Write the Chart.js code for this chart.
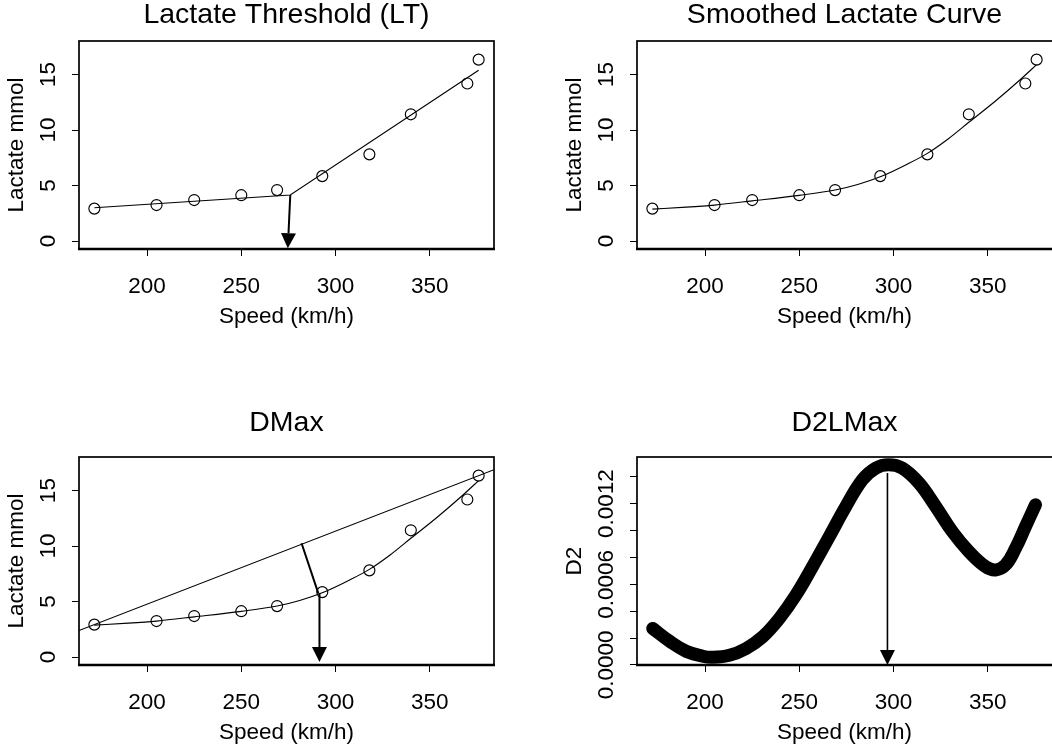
<!DOCTYPE html>
<html>
<head>
<meta charset="utf-8">
<title>Lactate threshold methods</title>
<script src="https://cdn.jsdelivr.net/npm/chart.js@4.4.1/dist/chart.umd.min.js"></script>
<style>
  html, body { margin: 0; padding: 0; background: #fff; }
  body { width: 1052px; height: 750px; overflow: hidden; position: relative; }
  .panel { position: absolute; width: 558px; height: 375px; }
</style>
</head>
<body>
<div class="panel" style="left:0;top:0"><canvas id="ltChart" width="558" height="375"></canvas></div>
<div class="panel" style="left:558px;top:0"><canvas id="smoothChart" width="558" height="375"></canvas></div>
<div class="panel" style="left:0;top:375px"><canvas id="dmaxChart" width="558" height="375"></canvas></div>
<div class="panel" style="left:558px;top:375px"><canvas id="d2Chart" width="558" height="375"></canvas></div>
<script>
// measured lactate test
const speed = [172, 205, 225, 250, 269, 293, 318, 340, 370, 376];
const lactate = [2.92, 3.24, 3.69, 4.13, 4.59, 5.85, 7.81, 11.42, 14.2, 16.35];

// two-segment fit for LT
const ltFitSpeed = [172, 276, 376];
const ltFitLactate = [3.0, 4.15, 15.4];

// smoothed curve
const smoothSpeed = [172, 190, 205, 225, 250, 269, 281, 294, 307, 318, 329, 340, 354, 368, 376];
const smoothLactate = [2.88, 3.05, 3.24, 3.62, 4.12, 4.6, 5.1, 5.86, 6.9, 7.9, 9.2, 10.7, 12.6, 14.65, 15.9];

// second derivative of the smoothed curve
const d2Speed = [172.2, 181.1, 189.9, 198.7, 204, 212.9, 221.7, 230.5, 239.4, 248.2, 257, 265.9, 274.7,
  283.5, 290.6, 297.3, 304.7, 313.6, 322.4, 331.2, 340.1, 348.9, 354.2, 359.5, 364.8, 370.1, 375.4];
const d2Value = [0.000271, 0.000177, 0.000102, 0.000065, 0.000057, 0.000072, 0.000122, 0.000209, 0.000346,
  0.00052, 0.000731, 0.000955, 0.001179, 0.001378, 0.001465, 0.00149, 0.001465, 0.001353, 0.001179,
  0.000993, 0.000843, 0.000731, 0.000707, 0.000744, 0.000868, 0.00103, 0.001192];

// markers
const ltArrowSpeed = [276, 274.7];
const ltArrowLactate = [4.15, -0.65];
const dmaxFootSpeed = [282, 290.9];
const dmaxFootLactate = [10.25, 5.74];
const dmaxArrowSpeed = [291.5, 291.5];
const dmaxArrowLactate = [5.74, -0.45];
const d2ArrowSpeed = [296.8, 296.8];
const d2ArrowValue = [0.001428, 0];

// axes
const xTicks = [200, 250, 300, 350];
const lactateTicks = [0, 5, 10, 15];
const lactateTickLabels = ["0", "5", "10", "15"];
const d2Ticks = [0, 0.0002, 0.0004, 0.0006, 0.0008, 0.001, 0.0012, 0.0014];
const d2TickLabels = ["0.0000", "", "", "0.0006", "", "", "0.0012", ""];

const FONT = "'Liberation Sans', Arial, Helvetica, sans-serif";
const TICK_SIZE = 22.5;
const TITLE_SIZE = 28.5;
Chart.defaults.font.family = FONT;
Chart.defaults.color = "#000";

// R style 4% axis padding
function padRange(arr) {
  const lo = Math.min(...arr), hi = Math.max(...arr);
  const p = 0.04 * (hi - lo);
  return [lo - p, hi + p];
}
const [xMin, xMax] = padRange(speed);
const [d2Min, d2Max] = padRange(d2Value);

function pts(xs, ys) {
  return xs.map((v, i) => ({ x: v, y: ys[i] }));
}

function widest(labels, size) {
  const c = document.createElement("canvas").getContext("2d");
  c.font = "normal " + size + "px " + FONT;
  return Math.max(...labels.map(l => c.measureText(l).width));
}

function drawArrow(ctx, x0, y0, x1, y1, width, head) {
  const ang = Math.atan2(y1 - y0, x1 - x0);
  const bx = x1 - head * Math.cos(ang);
  const by = y1 - head * Math.sin(ang);
  ctx.lineWidth = width;
  ctx.beginPath();
  ctx.moveTo(x0, y0);
  ctx.lineTo(bx, by);
  ctx.stroke();
  ctx.beginPath();
  ctx.moveTo(x1, y1);
  ctx.lineTo(bx + head / 2 * Math.sin(ang), by - head / 2 * Math.cos(ang));
  ctx.lineTo(bx - head / 2 * Math.sin(ang), by + head / 2 * Math.cos(ang));
  ctx.closePath();
  ctx.fill();
}

// box, segments and arrows the R way
const rDecor = {
  id: "rDecor",
  afterDatasetsDraw(chart, args, opts) {
    const { ctx, chartArea: a, scales: { x, y } } = chart;
    ctx.save();
    ctx.strokeStyle = "#000";
    ctx.fillStyle = "#000";
    (opts.segments || []).forEach(s => {
      ctx.lineWidth = s.width;
      ctx.beginPath();
      ctx.moveTo(x.getPixelForValue(s.xs[0]), y.getPixelForValue(s.ys[0]));
      ctx.lineTo(x.getPixelForValue(s.xs[1]), y.getPixelForValue(s.ys[1]));
      ctx.stroke();
    });
    (opts.arrows || []).forEach(s => {
      drawArrow(ctx,
        x.getPixelForValue(s.xs[0]), y.getPixelForValue(s.ys[0]),
        x.getPixelForValue(s.xs[1]), y.getPixelForValue(s.ys[1]),
        s.width, 15);
    });
    // right side of the right-hand panels falls off the page
    const right = opts.openRight ? a.right + 10 : a.right;
    ctx.lineWidth = 1.7;
    ctx.strokeRect(a.left, a.top, right - a.left, a.bottom - a.top);
    ctx.lineWidth = 2.5;
    ctx.beginPath();
    ctx.moveTo(a.left - 1, a.bottom);
    ctx.lineTo(right + 1, a.bottom);
    ctx.stroke();
    ctx.restore();
  }
};
Chart.register(rDecor);

function panelOptions(p) {
  const yTickPad = 23.1 - widest(p.yLabels, TICK_SIZE) / 2;
  return {
    responsive: false,
    animation: false,
    events: [],
    layout: { padding: { left: 0, right: 64, top: 0, bottom: 0 }, autoPadding: false },
    plugins: {
      legend: { display: false },
      tooltip: { enabled: false },
      title: {
        display: true,
        text: p.title,
        fullSize: false,
        color: "#000",
        font: { size: TITLE_SIZE, weight: "normal", lineHeight: 1 },
        padding: { top: p.titleTop, bottom: p.titleBottom }
      },
      rDecor: { segments: p.segments || [], arrows: p.arrows || [], openRight: !!p.openRight }
    },
    scales: {
      x: {
        type: "linear",
        min: xMin,
        max: xMax,
        afterBuildTicks: s => { s.ticks = xTicks.map(v => ({ value: v })); },
        afterFit: s => { s.height = 375 - p.areaBottom; },
        ticks: {
          autoSkip: false, maxRotation: 0, padding: 17.7, color: "#000",
          font: { size: TICK_SIZE },
          callback: v => String(v)
        },
        grid: { drawOnChartArea: false, drawTicks: true, tickLength: 7, color: "#000", lineWidth: 1 },
        border: { display: false },
        title: {
          display: true, text: "Speed (km/h)", color: "#000",
          font: { size: TICK_SIZE, lineHeight: 1 },
          padding: { top: 0, bottom: p.xTitleBottom }
        }
      },
      y: {
        type: "linear",
        min: p.yMin,
        max: p.yMax,
        afterBuildTicks: s => { s.ticks = p.yTicks.map(v => ({ value: v })); },
        afterFit: s => { s.width = 79; },
        ticks: {
          autoSkip: false, minRotation: 90, maxRotation: 90, crossAlign: "center",
          padding: yTickPad, color: "#000",
          font: { size: TICK_SIZE },
          callback: (v, i) => p.yLabels[i]
        },
        grid: { drawOnChartArea: false, drawTicks: true, tickLength: 7, color: "#000", lineWidth: 1 },
        border: { display: false },
        title: {
          display: true, text: p.yTitle, color: "#000",
          font: { size: TICK_SIZE, lineHeight: 1 },
          padding: { top: 5.95, bottom: 0 }
        }
      }
    }
  };
}

const pointSet = {
  data: pts(speed, lactate),
  showLine: false,
  pointRadius: 5.5,
  pointBorderWidth: 1.15,
  pointBorderColor: "#000",
  pointBackgroundColor: "rgba(0,0,0,0)"
};
function lineSet(data, extra) {
  return Object.assign({
    data: data, showLine: true, pointRadius: 0, borderWidth: 1.15, borderColor: "#000", tension: 0
  }, extra || {});
}

const topRow = { titleTop: 0.85, titleBottom: 11.65, areaBottom: 249, xTitleBottom: 46.55 };
const bottomRow = { titleTop: 34.15, titleBottom: 19.35, areaBottom: 290, xTitleBottom: 5.55 };
const lactateAxis = { yMin: -0.72, yMax: 18.03, yTicks: lactateTicks, yLabels: lactateTickLabels, yTitle: "Lactate mmol" };

new Chart(document.getElementById("ltChart"), {
  type: "line",
  data: { datasets: [lineSet(pts(ltFitSpeed, ltFitLactate)), pointSet] },
  options: panelOptions(Object.assign({ title: "Lactate Threshold (LT)",
    arrows: [{ xs: ltArrowSpeed, ys: ltArrowLactate, width: 2 }] }, topRow, lactateAxis))
});

new Chart(document.getElementById("smoothChart"), {
  type: "line",
  data: { datasets: [lineSet(pts(smoothSpeed, smoothLactate), { cubicInterpolationMode: "monotone" }), pointSet] },
  options: panelOptions(Object.assign({ title: "Smoothed Lactate Curve", openRight: true }, topRow, lactateAxis))
});

// straight line through first and last measurement
const n = speed.length - 1;
const slope = (lactate[n] - lactate[0]) / (speed[n] - speed[0]);
const dmaxLine = [xMin, xMax].map(v => ({ x: v, y: lactate[0] + slope * (v - speed[0]) }));

new Chart(document.getElementById("dmaxChart"), {
  type: "line",
  data: { datasets: [
    lineSet(dmaxLine),
    lineSet(pts(smoothSpeed, smoothLactate), { cubicInterpolationMode: "monotone" }),
    pointSet
  ] },
  options: panelOptions(Object.assign({ title: "DMax",
    segments: [{ xs: dmaxFootSpeed, ys: dmaxFootLactate, width: 2 }],
    arrows: [{ xs: dmaxArrowSpeed, ys: dmaxArrowLactate, width: 2 }] }, bottomRow, lactateAxis))
});

new Chart(document.getElementById("d2Chart"), {
  type: "line",
  data: { datasets: [lineSet(pts(d2Speed, d2Value), {
    borderWidth: 13, borderCapStyle: "round", borderJoinStyle: "round", tension: 0.4
  })] },
  options: panelOptions(Object.assign({ title: "D2LMax", openRight: true,
    arrows: [{ xs: d2ArrowSpeed, ys: d2ArrowValue, width: 1.6 }] }, bottomRow,
    { yMin: d2Min, yMax: d2Max, yTicks: d2Ticks, yLabels: d2TickLabels, yTitle: "D2" }))
});
</script>
</body>
</html>
